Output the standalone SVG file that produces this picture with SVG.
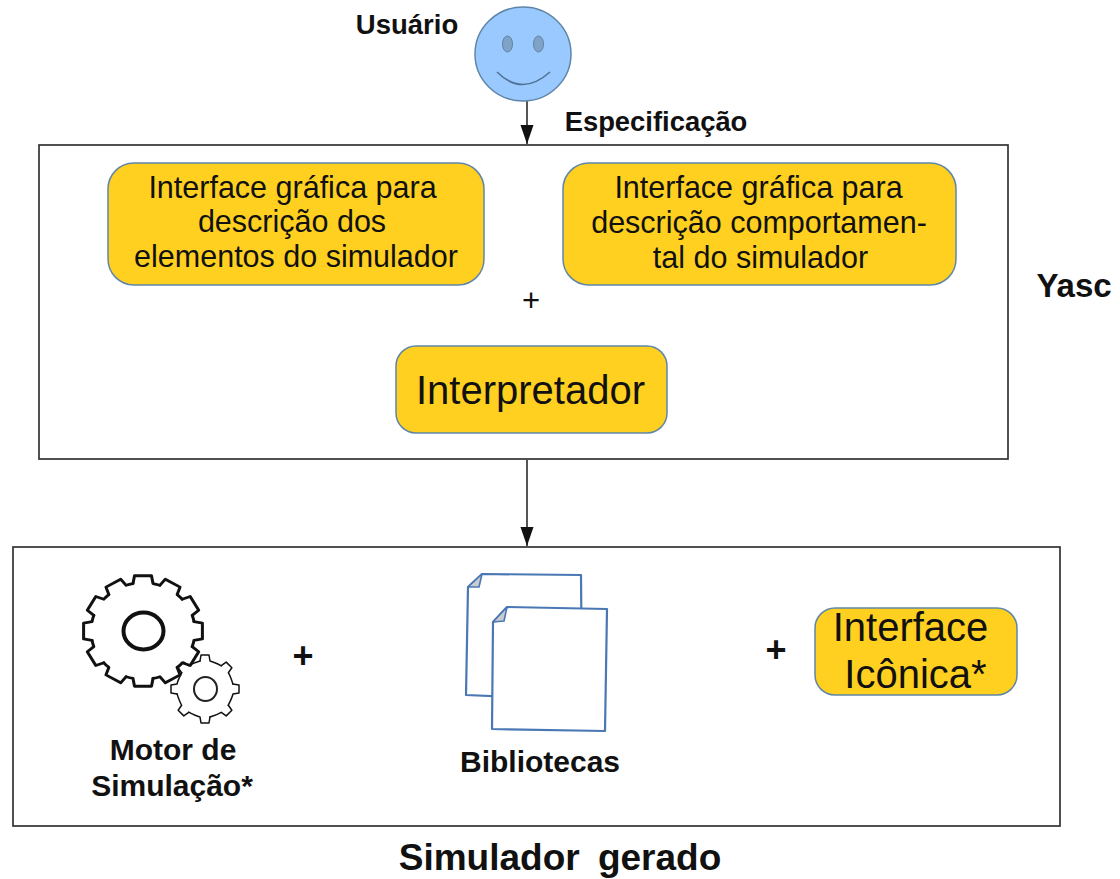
<svg xmlns="http://www.w3.org/2000/svg" xmlns:xlink="http://www.w3.org/1999/xlink" width="1120" height="879" viewBox="0 0 1120 879">
<style>
text{font-family:"Liberation Sans",Arial,sans-serif;fill:#111;text-anchor:middle}
.b{font-weight:bold}
.box{fill:#fff;stroke:#333;stroke-width:1.700}
.pill{fill:#ffd01f;stroke:#5f86a8;stroke-width:1.500}
.t{font-size:30.500px}
.page{fill:#fff;stroke:#4a78b4;stroke-width:2.200;stroke-linejoin:round}
.fold{fill:#c9cdd2;stroke:#4a78b4;stroke-width:1.600;stroke-linejoin:round}
.conn{fill:none;stroke:#555;stroke-width:2}
.gear{fill:none;stroke:#111;stroke-linejoin:round;stroke-linecap:round}
</style>
<defs>
<marker id="arrow" markerUnits="userSpaceOnUse" markerWidth="20" markerHeight="14" refX="19" refY="6.500" orient="auto"><path d="M0,0 L19,6.500 L0,13 Z" fill="#111"/></marker>
<path id="bt" d="M-10,-51 L-8.500,-59.400 L8.500,-59.400 L10,-51 Q13,-50.500 16.800,-49.200"/>
<path id="st" d="M-5,-28 L-4,-34 L4,-34 L5,-28 Q9,-27 16.300,-23.200"/>
</defs>
<g id="connectors">
<line class="conn" x1="527" y1="101" x2="527" y2="144" marker-end="url(#arrow)"/>
<line class="conn" x1="527" y1="460" x2="527" y2="546" marker-end="url(#arrow)"/>
</g>
<g id="usuario">
<text class="b" x="407" y="34" font-size="27.500">Usuário</text>
<ellipse cx="523" cy="54" rx="48" ry="47" fill="#99c9ff" stroke="#5f86a8" stroke-width="1.500"/>
<ellipse cx="507.500" cy="44" rx="5" ry="8" fill="#7fa3c7" stroke="#5f86a8"/>
<ellipse cx="538.500" cy="44" rx="5" ry="8" fill="#7fa3c7" stroke="#5f86a8"/>
<path d="M497,72 Q522,97 550,72" fill="none" stroke="#4f7396" stroke-width="1.600"/>
</g>
<text id="especificacao" class="b" x="656" y="131" font-size="27.400">Especificação</text>
<g id="yasc">
<rect class="box" x="39" y="145" width="969" height="314"/>
<text class="b" x="1074" y="297" font-size="33">Yasc</text>
<text x="531" y="311" font-size="31">+</text>
</g>
<g id="interface-elementos">
<rect class="pill" x="108" y="163" width="376" height="122" rx="26"/>
<text class="t" x="292.500" y="198">Interface gráfica para</text>
<text class="t" x="292" y="232">descrição dos</text>
<text class="t" x="296" y="267">elementos do simulador</text>
</g>
<g id="interface-comportamental">
<rect class="pill" x="563" y="163" width="393" height="122" rx="26"/>
<text class="t" x="758.500" y="198">Interface gráfica para</text>
<text class="t" x="759" y="233">descrição comportamen-</text>
<text class="t" x="760.500" y="268">tal do simulador</text>
</g>
<g id="interpretador">
<rect class="pill" x="396" y="346" width="271" height="87" rx="20"/>
<text x="530.500" y="404" font-size="40">Interpretador</text>
</g>
<g id="simulador">
<rect class="box" x="13" y="547" width="1047" height="279"/>
<text class="b" x="560" y="870" font-size="37" word-spacing="8">Simulador gerado</text>
<text class="b" x="303" y="668" font-size="36">+</text>
<text class="b" x="776" y="662" font-size="36">+</text>
</g>
<g id="motor">
<g class="gear" stroke-width="3" transform="translate(143,631) scale(1,0.93)">
<use xlink:href="#bt"/><use xlink:href="#bt" transform="rotate(30)"/><use xlink:href="#bt" transform="rotate(60)"/><use xlink:href="#bt" transform="rotate(90)"/><use xlink:href="#bt" transform="rotate(120)"/><use xlink:href="#bt" transform="rotate(150)"/><use xlink:href="#bt" transform="rotate(180)"/><use xlink:href="#bt" transform="rotate(210)"/><use xlink:href="#bt" transform="rotate(240)"/><use xlink:href="#bt" transform="rotate(270)"/><use xlink:href="#bt" transform="rotate(300)"/><use xlink:href="#bt" transform="rotate(330)"/>
</g>
<ellipse cx="143.500" cy="631" rx="20" ry="18.500" fill="none" stroke="#111" stroke-width="4"/>
<ellipse cx="205" cy="689" rx="27" ry="25" fill="#fff"/>
<g class="gear" stroke-width="1.500" transform="translate(205,689)">
<use xlink:href="#st"/><use xlink:href="#st" transform="rotate(45)"/><use xlink:href="#st" transform="rotate(90)"/><use xlink:href="#st" transform="rotate(135)"/><use xlink:href="#st" transform="rotate(180)"/><use xlink:href="#st" transform="rotate(225)"/><use xlink:href="#st" transform="rotate(270)"/><use xlink:href="#st" transform="rotate(315)"/>
</g>
<ellipse cx="205.500" cy="689" rx="11.500" ry="12" fill="none" stroke="#222" stroke-width="2"/>
<text class="b" x="173" y="760" font-size="30">Motor de</text>
<text class="b" x="172" y="796" font-size="30">Simulação*</text>
</g>
<g id="bibliotecas">
<path class="page" d="M482,574 L581,575 L582,700 L466,695 L468,587 Z"/>
<path class="fold" d="M468,587 L482,574 L479,587 Z"/>
<path class="page" d="M507,607 L607,609 L605,731 L492,729 L493,622 Z"/>
<path class="fold" d="M493,622 L507,607 L504,621 Z"/>
<text class="b" x="540" y="772" font-size="30">Bibliotecas</text>
</g>
<g id="interface-iconica">
<rect class="pill" x="815" y="608" width="202" height="87" rx="20"/>
<text x="910.500" y="641" font-size="40">Interface</text>
<text x="915.500" y="688" font-size="40">Icônica*</text>
</g>
</svg>
